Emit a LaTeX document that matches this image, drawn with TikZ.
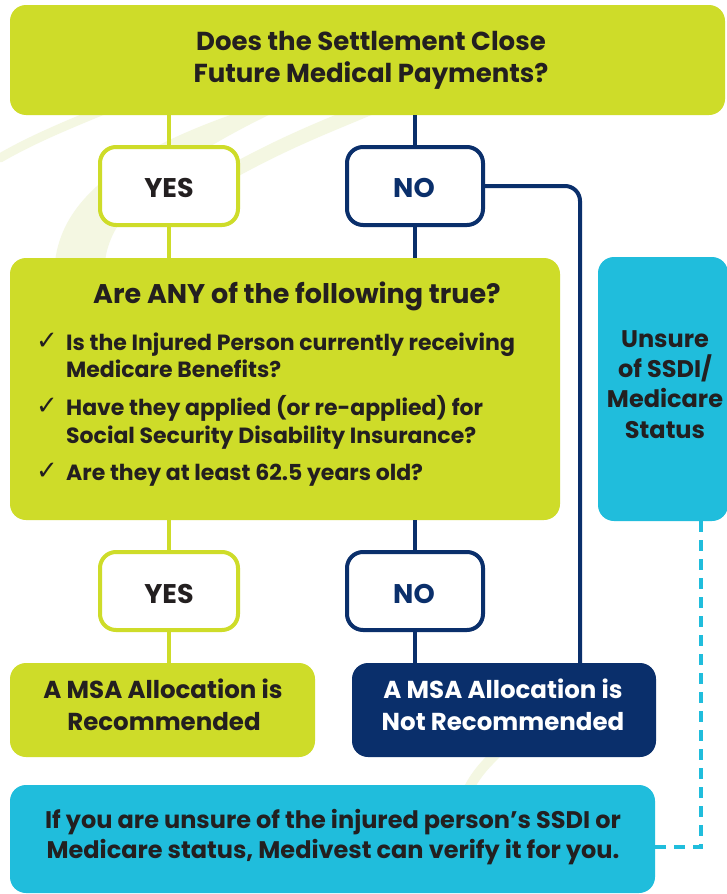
\documentclass[tikz,border=0pt]{standalone}
\usepackage{fontspec}
\setmainfont{Poppins}
\newfontfamily\symfont{DejaVu Sans}
\definecolor{lime}{HTML}{CEDC29}
\definecolor{navy}{HTML}{0A2F6B}
\definecolor{cyanbox}{HTML}{20BDDC}
\definecolor{ink}{HTML}{231F20}
\definecolor{swoosh}{HTML}{F4F7E2}
\tikzset{
  box/.style={rectangle, rounded corners=16pt, inner sep=0pt},
  limebox/.style={box, fill=lime},
  navybox/.style={box, fill=navy},
  cyanfill/.style={box, fill=cyanbox},
  yesbox/.style={box, fill=white, draw=lime, line width=4pt, minimum width=138pt, minimum height=78pt},
  nobox/.style={box, fill=white, draw=navy, line width=4pt, minimum width=136pt, minimum height=78pt},
  limeline/.style={draw=lime, line width=4pt},
  navyline/.style={draw=navy, line width=4pt},
  dashline/.style={draw=cyanbox, line width=3.5pt, dash pattern=on 11pt off 8pt},
  titletxt/.style={inner sep=0pt, text=ink, font=\bfseries\fontsize{26}{30}\selectfont},
  txt/.style={inner sep=0pt, text=ink, font=\bfseries\fontsize{24.5}{30}\selectfont},
  bottxt/.style={inner sep=0pt, text=ink, font=\bfseries\fontsize{24}{30}\selectfont},
  bigtxt/.style={inner sep=0pt, text=ink, font=\bfseries\fontsize{27}{30}\selectfont},
  unsuretxt/.style={inner sep=0pt, text=ink, font=\bfseries\fontsize{24}{30}\selectfont},
  bodytxt/.style={inner sep=0pt, text=ink, font=\bfseries\fontsize{22}{28}\selectfont},
  chk/.style={inner sep=0pt, text=ink, font=\symfont\fontsize{26}{28}\selectfont},
}
\begin{document}
\begin{tikzpicture}[x=1pt,y=-1pt]
\useasboundingbox (0,0) rectangle (726,894);
\fill[white] (0,0) rectangle (726,894);
% faint background swooshes
\fill[swoosh] (55,262) .. controls (62,200) and (120,150) .. (260,105)
   -- (300,100) .. controls (170,160) and (110,210) .. (105,262) -- cycle;
\draw[swoosh, line width=9pt, line cap=round] (0,158) .. controls (40,135) and (80,120) .. (140,95);
\draw[swoosh, line width=14pt, line cap=round] (235,170) .. controls (290,140) and (330,125) .. (370,108);
\draw[swoosh, line width=10pt, line cap=round] (468,790) .. controls (478,770) and (490,760) .. (505,745);

% boxes
\node[limebox, minimum width=715pt, minimum height=110pt] (top) at (367.5,60) {};
\node[yesbox] (yes1) at (169,186) {};
\node[nobox] (no1) at (415,186) {};
\node[limebox, minimum width=550pt, minimum height=262pt] (quest) at (285,389) {};
\node[cyanfill, minimum width=130pt, minimum height=264pt] (unsure) at (663,389) {};
\node[yesbox] (yes2) at (169,591) {};
\node[nobox] (no2) at (415,591) {};
\node[limebox, minimum width=305pt, minimum height=94pt] (rec) at (162.5,710) {};
\node[navybox, minimum width=304pt, minimum height=94pt] (notrec) at (504,710) {};
\node[cyanfill, minimum width=645pt, minimum height=108pt] (bottom) at (332.5,839) {};

% connectors
\coordinate (routex) at (580,0);
\coordinate (dashx) at (701,0);
\draw[limeline] (yes1.north |- top.south) -- (yes1.north);
\draw[navyline] (no1.north |- top.south) -- (no1.north);
\draw[limeline] (yes1.south) -- (yes1.south |- quest.north);
\draw[navyline] (no1.south) -- (no1.south |- quest.north);
\draw[limeline] (yes2.north |- quest.south) -- (yes2.north);
\draw[navyline] (no2.north |- quest.south) -- (no2.north);
\draw[limeline] (yes2.south) -- (yes2.south |- rec.north);
\draw[navyline] (no2.south) -- (no2.south |- notrec.north);
\draw[navyline, rounded corners=15pt] (no1.east) -| (routex |- notrec.north);
\draw[dashline] (dashx |- unsure.south) |- ([yshift=-8pt]bottom.east);

% texts
\node[titletxt, anchor=base] (t1) at (371,50) {Does the Settlement Close};
\node[titletxt, anchor=base] (t2) at (371,82) {Future Medical Payments?};
\node[bigtxt, anchor=base] (y1) at (169,197) {YES};
\node[bigtxt, anchor=base, text=navy] (n1) at (414,197) {NO};
\node[bigtxt, anchor=base] (qt) at (297,303) {Are ANY of the following true?};
\node[chk, anchor=base west] (c1) at (36,349) {✓};
\node[chk, anchor=base west] (c2) at (36,414) {✓};
\node[chk, anchor=base west] (c3) at (36,479) {✓};
\node[bodytxt, anchor=base west] (b1a) at (66,350) {Is the Injured Person currently receiving};
\node[bodytxt, anchor=base west] (b1b) at (66,377) {Medicare Benefits?};
\node[bodytxt, anchor=base west] (b2a) at (66,415) {Have they applied (or re-applied) for};
\node[bodytxt, anchor=base west] (b2b) at (66,443) {Social Security Disability Insurance?};
\node[bodytxt, anchor=base west] (b3) at (66,480) {Are they at least 62.5 years old?};
\node[unsuretxt, anchor=base] (u1) at (665,347) {Unsure};
\node[unsuretxt, anchor=base] (u2) at (665,377) {of SSDI/};
\node[unsuretxt, anchor=base] (u3) at (665,407) {Medicare};
\node[unsuretxt, anchor=base] (u4) at (665,438) {Status};
\node[bigtxt, anchor=base] (y2) at (169,603) {YES};
\node[bigtxt, anchor=base, text=navy] (n2) at (414,603) {NO};
\node[txt, anchor=base] (r1) at (163,698) {A MSA Allocation is};
\node[txt, anchor=base] (r2) at (164,730) {Recommended};
\node[txt, anchor=base, text=white] (nr1) at (503,698) {A MSA Allocation is};
\node[txt, anchor=base, text=white] (nr2) at (503,730) {Not Recommended};
\node[bottxt, anchor=base] (bt1) at (333,828) {If you are unsure of the injured person’s SSDI or};
\node[bottxt, anchor=base] (bt2) at (333,858) {Medicare status, Medivest can verify it for you.};
\end{tikzpicture}
\end{document}
